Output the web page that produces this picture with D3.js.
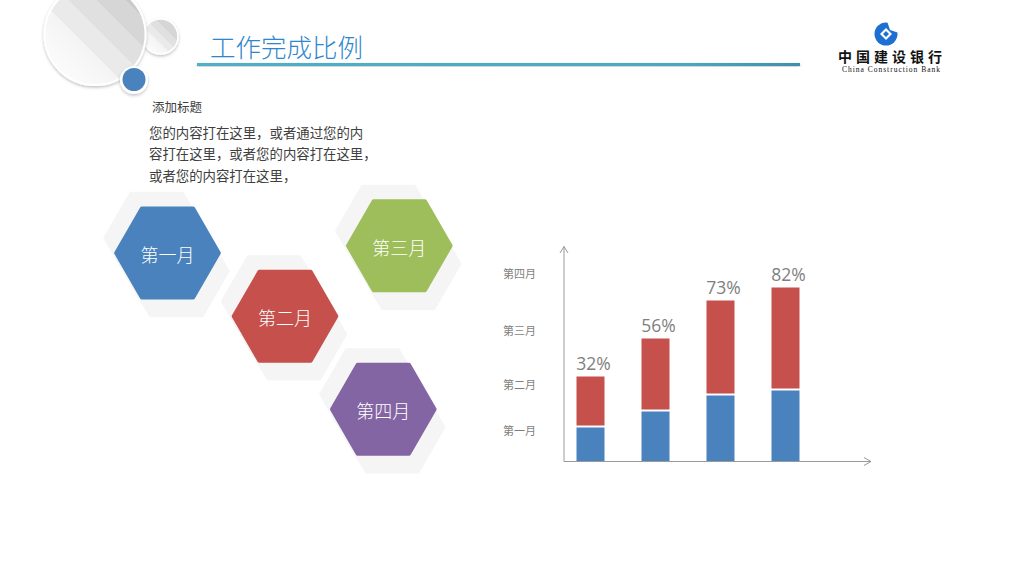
<!DOCTYPE html>
<html>
<head>
<meta charset="utf-8">
<script src="https://cdn.jsdelivr.net/npm/d3@7"></script>
<style>
  body { margin: 0; background: #fff; }
  svg { display: block; }
</style>
</head>
<body>
<svg width="1024" height="575"></svg>
<script>
      // chart data
      const months = ['第一月', '第二月', '第三月', '第四月'];
      const hexColors = ['#4a82bd', '#c5504c', '#9dbe5a', '#8465a4'];
      const firstPart = [34, 50, 66, 71];
      const secondPart = [49, 71, 93, 101];
      const percentLabels = ['32%', '56%', '73%', '82%'];
      const yTickValues = [31, 77, 131, 188];
      const bodyLines = ['您的内容打在这里，或者通过您的内', '容打在这里，或者您的内容打在这里，', '或者您的内容打在这里，'];

      const svg = d3.select('svg');
      const defs = svg.append('defs');
      const cjk = '"Noto Sans CJK SC", "Noto Sans", sans-serif';

      // ---- decorative circles top-left
      const grad = defs.append('linearGradient')
          .attr('id', 'stripe')
          .attr('x1', '100%').attr('y1', '0%')
          .attr('x2', '0%').attr('y2', '100%');
      const stripeStops = [['0%', '#cbcbcb'], ['18%', '#cbcbcb'], ['18%', '#d6d6d6'], ['32%', '#d6d6d6'],
        ['32%', '#e0e0e0'], ['46%', '#e0e0e0'], ['46%', '#eaeaea'], ['60%', '#eaeaea'],
        ['60%', '#f4f4f4'], ['100%', '#ffffff']];
      stripeStops.forEach(s => grad.append('stop').attr('offset', s[0]).attr('stop-color', s[1]));

      const shadow = defs.append('filter').attr('id', 'shadow')
          .attr('x', '-30%').attr('y', '-30%').attr('width', '160%').attr('height', '160%');
      shadow.append('feDropShadow').attr('dx', 0).attr('dy', 1.5).attr('stdDeviation', 1.5)
          .attr('flood-color', '#000').attr('flood-opacity', 0.25);

      svg.append('circle').attr('cx', 160.5).attr('cy', 36.5).attr('r', 17.5)
          .attr('fill', 'url(#stripe)').attr('stroke', '#fff').attr('stroke-width', 1.5)
          .attr('filter', 'url(#shadow)');
      svg.append('circle').attr('cx', 95).attr('cy', 34.5).attr('r', 50.5)
          .attr('fill', 'url(#stripe)').attr('stroke', '#fff').attr('stroke-width', 2)
          .attr('filter', 'url(#shadow)');
      svg.append('circle').attr('cx', 134).attr('cy', 80).attr('r', 14)
          .attr('fill', '#fff').attr('filter', 'url(#shadow)');
      svg.append('circle').attr('cx', 134).attr('cy', 79.5).attr('r', 11.5)
          .attr('fill', '#4a82bd');

      // ---- title + underline
      const lineGrad = defs.append('linearGradient').attr('id', 'uline');
      lineGrad.append('stop').attr('offset', '0%').attr('stop-color', '#4fb0c8');
      lineGrad.append('stop').attr('offset', '80%').attr('stop-color', '#4aa9c4');
      lineGrad.append('stop').attr('offset', '100%').attr('stop-color', '#3d8fae');
      svg.append('rect').attr('x', 197).attr('y', 63).attr('width', 603).attr('height', 3)
          .attr('fill', 'url(#uline)').attr('filter', 'url(#shadow)');

      svg.append('text')
          .attr('x', 210).attr('y', 57)
          .attr('font-family', cjk).attr('font-weight', 300)
          .attr('font-size', 25.5).attr('fill', '#2f86cc')
          .text('工作完成比例');

      // ---- CCB logo
      const logo = svg.append('g').attr('transform', 'translate(886,34)');
      logo.append('circle').attr('r', 11.5).attr('fill', '#1d6fd1');
      logo.append('path')
          .attr('d', 'M0,-6 L6,0 L0,6 L-6,0 Z')
          .attr('fill', '#fff');
      logo.append('path')
          .attr('d', 'M1,-13 L13,-13 L13,-1 L4,-4 Z')
          .attr('fill', '#fff');
      logo.append('path')
          .attr('d', 'M0,-3 L3,0 L0,3 L-3,0 Z')
          .attr('fill', '#1d6fd1');
      svg.append('text')
          .attr('x', 838).attr('y', 62)
          .attr('font-family', cjk).attr('font-weight', 700)
          .attr('font-size', 14).attr('fill', '#111')
          .attr('textLength', 104).attr('lengthAdjust', 'spacing')
          .text('中国建设银行');
      svg.append('text')
          .attr('x', 842).attr('y', 71.5)
          .attr('font-family', '"Liberation Serif", serif')
          .attr('font-size', 7.5).attr('fill', '#111')
          .attr('textLength', 98).attr('lengthAdjust', 'spacing')
          .text('China  Construction  Bank');

      // ---- text block
      svg.append('text')
          .attr('x', 152).attr('y', 112)
          .attr('font-family', cjk).attr('font-size', 12.5).attr('fill', '#404040')
          .text('添加标题');
      svg.append('g').selectAll('text')
        .data(bodyLines)
        .join('text')
          .attr('x', 149)
          .attr('y', (d, i) => 138 + i * 21.3)
          .attr('font-family', cjk).attr('font-size', 13.4).attr('fill', '#404040')
          .text(d => d);

      // ---- hexagons
      const hexCenters = [[167.5, 253], [285, 316.3], [399.3, 245.8], [383.3, 409.3]];
      const hexR = 53.3;
      const hexPoints = (cx, cy, r) => d3.range(6).map(k => {
        const a = Math.PI / 3 * k;
        return [cx + r * Math.cos(a), cy + r * Math.sin(a)];
      });
      const hexLine = d3.line().curve(d3.curveLinearClosed);

      const shadowHull = (cx, cy) => d3.polygonHull(
        hexPoints(cx - 11, cy - 15, hexR).concat(hexPoints(cx + 9, cy + 18, hexR)));

      const hexG = svg.append('g');
      hexG.selectAll('path.shade')
        .data(hexCenters)
        .join('path')
          .attr('class', 'shade')
          .attr('d', d => hexLine(shadowHull(d[0], d[1])))
          .attr('fill', '#f5f5f5');
      hexG.selectAll('path.hex')
        .data(months)
        .join('path')
          .attr('class', 'hex')
          .attr('d', (d, i) => hexLine(hexPoints(hexCenters[i][0], hexCenters[i][1], hexR - 2)))
          .attr('fill', (d, i) => hexColors[i])
          .attr('stroke', (d, i) => hexColors[i])
          .attr('stroke-width', 4)
          .attr('stroke-linejoin', 'round');
      hexG.selectAll('text')
        .data(months)
        .join('text')
          .attr('x', (d, i) => hexCenters[i][0])
          .attr('y', (d, i) => hexCenters[i][1] + 9)
          .attr('text-anchor', 'middle')
          .attr('font-family', cjk).attr('font-weight', 300)
          .attr('font-size', 18).attr('fill', '#fff')
          .text(d => d);

      // ---- stacked bar chart
      const x0 = 564, yBase = 461.5;
      const xScale = d3.scalePoint()
        .domain(d3.range(months.length))
        .range([590.5, 785.5]);
      const yScale = d3.scaleLinear()
        .domain([0, 215])
        .range([yBase, yBase - 215]);
      const barW = 28;
      const gap = 2;

      const chart = svg.append('g');

      chart.selectAll('rect.first')
        .data(firstPart)
        .join('rect')
          .attr('class', 'first')
          .attr('x', (d, i) => xScale(i) - barW / 2)
          .attr('y', d => yScale(d))
          .attr('width', barW)
          .attr('height', d => yScale(0) - yScale(d))
          .attr('fill', '#4a82bd');

      chart.selectAll('rect.second')
        .data(secondPart)
        .join('rect')
          .attr('class', 'second')
          .attr('x', (d, i) => xScale(i) - barW / 2)
          .attr('y', (d, i) => yScale(firstPart[i] + d + gap))
          .attr('width', barW)
          .attr('height', d => yScale(0) - yScale(d))
          .attr('fill', '#c5504c');

      chart.selectAll('text.pct')
        .data(percentLabels)
        .join('text')
          .attr('class', 'pct')
          .attr('x', (d, i) => xScale(i) + 3)
          .attr('y', (d, i) => yScale(firstPart[i] + secondPart[i] + gap) - 7)
          .attr('text-anchor', 'middle')
          .attr('font-family', '"Open Sans", sans-serif')
          .attr('font-size', 17.5).attr('fill', '#7f7f7f')
          .text(d => d);

      // axes with open arrow heads
      const axisColor = '#9a9a9a';
      const yAxis = d3.axisLeft(yScale)
        .tickValues(yTickValues)
        .tickFormat((d, i) => months[i])
        .tickSize(0)
        .tickPadding(28);
      const yAxisG = chart.append('g')
          .attr('transform', `translate(${x0},0)`)
          .call(yAxis);
      yAxisG.select('.domain').remove();
      yAxisG.selectAll('text')
          .attr('font-family', cjk).attr('font-size', 11).attr('fill', '#7f7f7f');

      chart.append('path')
          .attr('d', `M${x0},${yBase} V246.5 M${x0 - 4},253 L${x0},246.5 L${x0 + 4},253`)
          .attr('fill', 'none').attr('stroke', axisColor).attr('stroke-width', 1);
      chart.append('path')
          .attr('d', `M${x0},${yBase} H871 M864,${yBase - 4} L871,${yBase} L864,${yBase + 4}`)
          .attr('fill', 'none').attr('stroke', axisColor).attr('stroke-width', 1);
</script>
</body>
</html>
